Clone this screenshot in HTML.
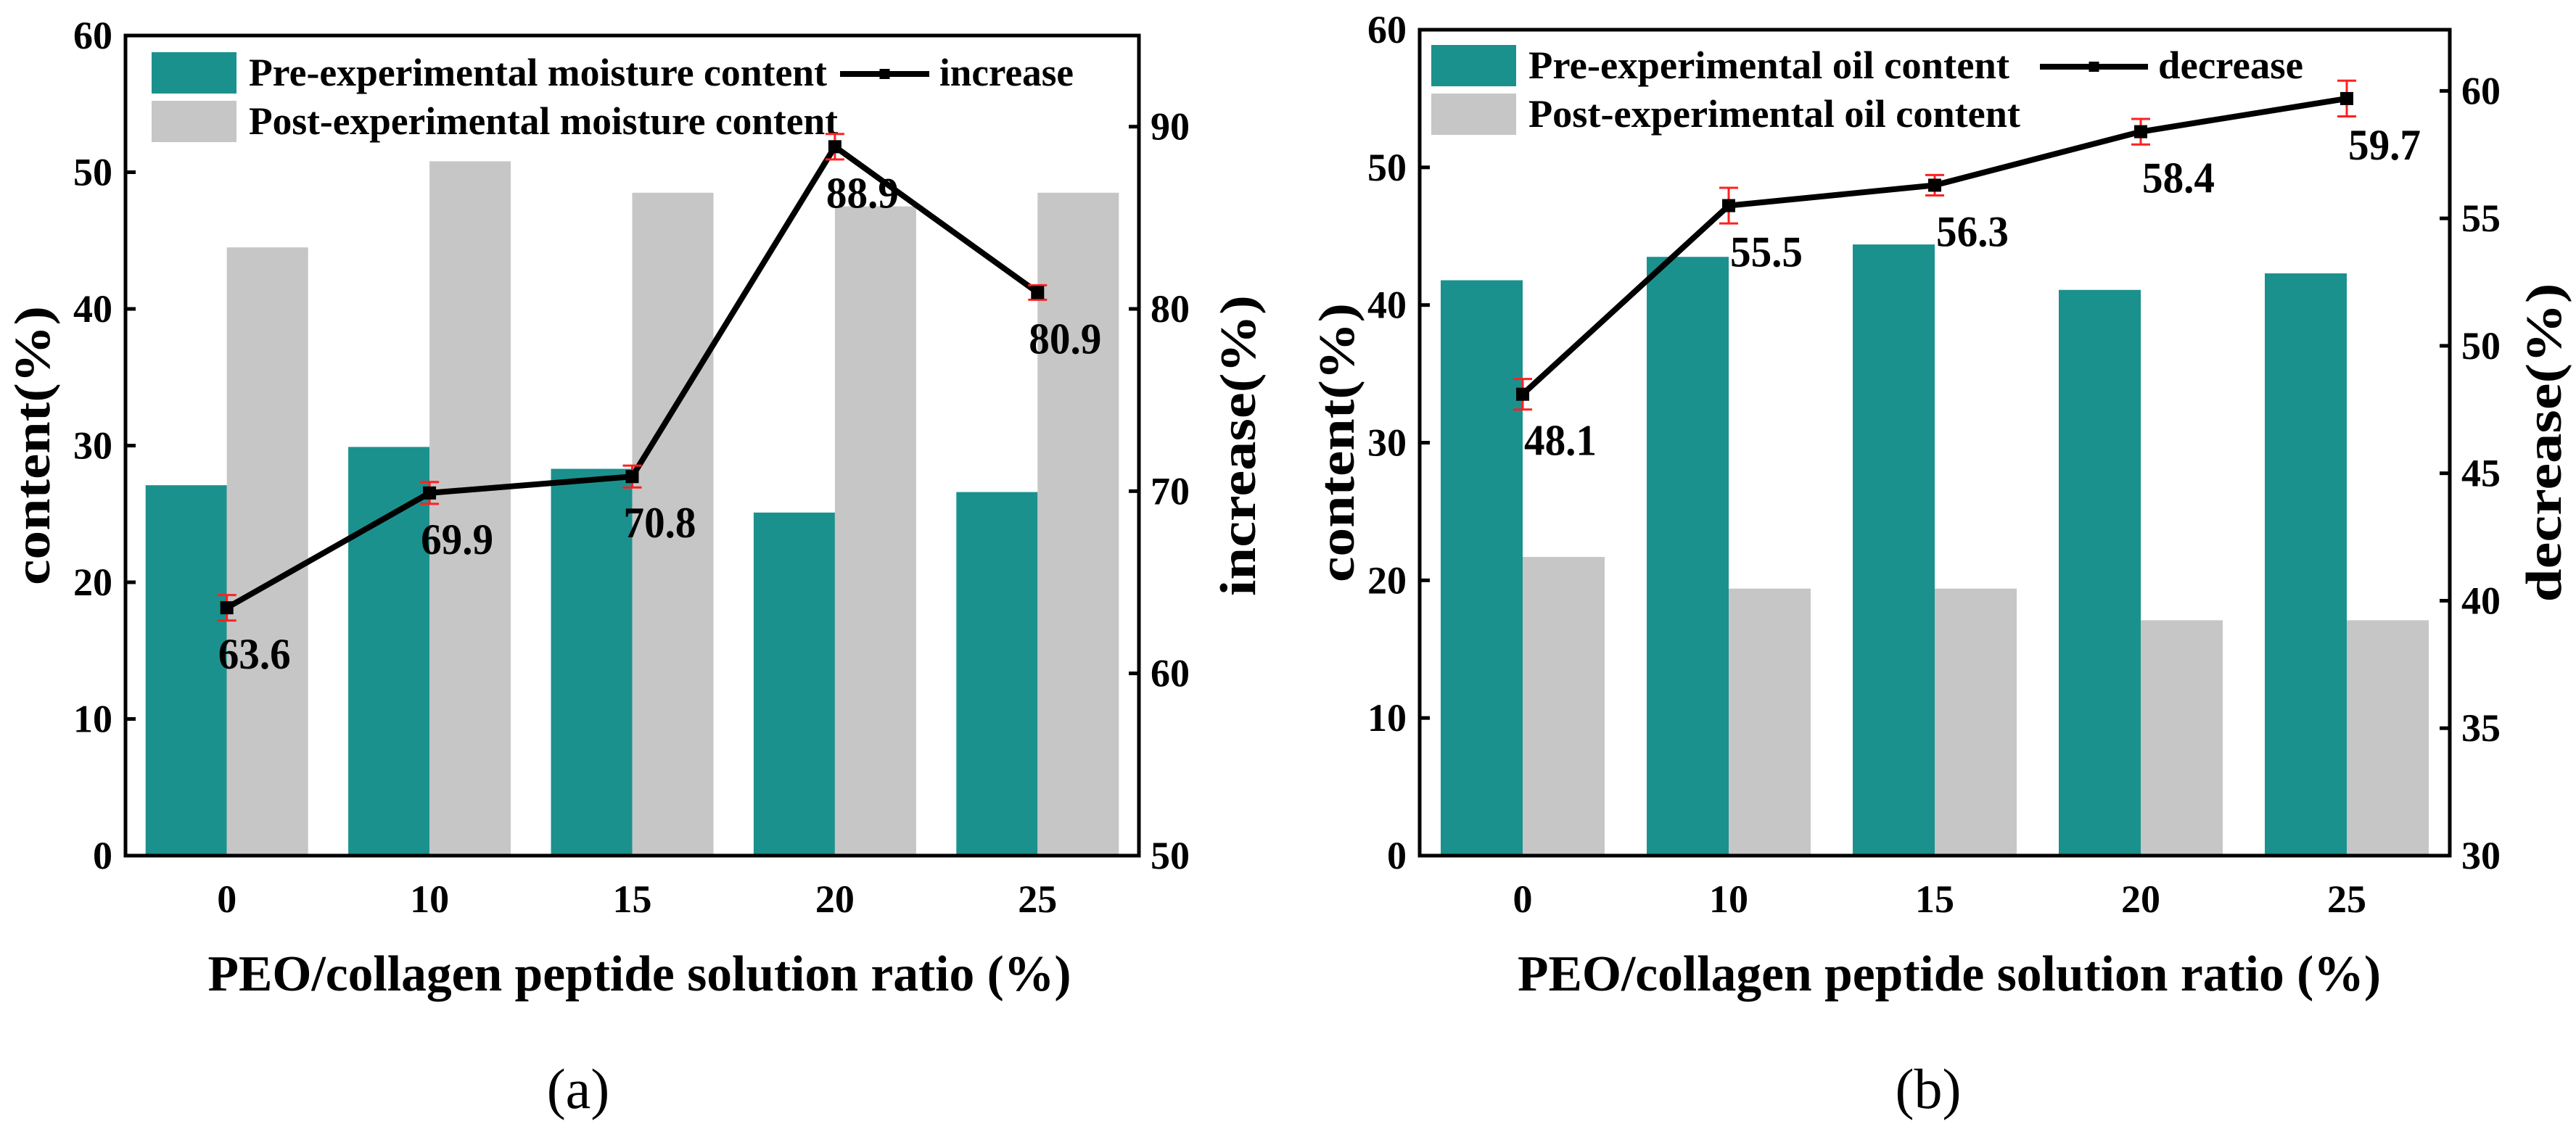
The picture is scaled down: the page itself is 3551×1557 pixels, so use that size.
<!DOCTYPE html>
<html><head><meta charset="utf-8">
<style>
html,body{margin:0;padding:0;background:#fff;}
svg, svg text{font-family:"Liberation Serif","Times New Roman","Nimbus Roman",Times,serif;}
.b{font-weight:bold;}
</style></head>
<body>
<svg id="fig" width="3551" height="1552" viewBox="0 0 3551 1552" xmlns="http://www.w3.org/2000/svg" font-family="Liberation Serif, Times New Roman, serif"></svg>
<script>
// ---------- data ----------
const categories = ["0","10","15","20","25"];
const preMoisture = [27.1, 29.9, 28.3, 25.1, 26.6];
const postMoisture = [44.5, 50.8, 48.5, 47.5, 48.5];
const increaseVals = [63.6, 69.9, 70.8, 88.9, 80.9];
const increaseErr = [0.7, 0.6, 0.6, 0.7, 0.4];
const preOil = [41.8, 43.5, 44.4, 41.1, 42.3];
const postOil = [21.7, 19.4, 19.4, 17.1, 17.1];
const decreaseVals = [48.1, 55.5, 56.3, 58.4, 59.7];
const decreaseErr = [0.6, 0.7, 0.4, 0.5, 0.7];
const leftTicks = [0,10,20,30,40,50,60];
const rightTicksA = [50,60,70,80,90];
const rightTicksB = [30,35,40,45,50,55,60];

const NS = "http://www.w3.org/2000/svg";
const svg = document.getElementById("fig");
const FF = "'Liberation Serif', 'Times New Roman', serif";
function mk(tag, attrs, parent, text){
  const e = document.createElementNS(NS, tag);
  for (const k in attrs) e.setAttribute(k, attrs[k]);
  if (tag === "text") e.setAttribute("font-family", FF);
  if (text !== undefined) e.textContent = text;
  (parent || svg).appendChild(e);
  return e;
}
const TEAL = "#1b918e", GREY = "#c6c6c6";

function drawChart(cfg){
  const g = mk("g", {});
  
  
  const {L,R,T,B} = cfg;
  const n = categories.length, gw = (R-L)/n, bw = cfg.bw;
  const yL = v => B - (v - 0)/(60 - 0)*(B-T);
  const yR = v => B - (v - cfg.rmin)/(cfg.rmax - cfg.rmin)*(B-T);
  const xC = i => L + gw*(i+0.5);

  for (let i=0;i<n;i++){
    let r = mk("rect",{x:xC(i)-bw, y:yL(cfg.pre[i]), width:bw, height:B-yL(cfg.pre[i]), fill:TEAL}, g);
    
    
    r = mk("rect",{x:xC(i), y:yL(cfg.post[i]), width:bw, height:B-yL(cfg.post[i]), fill:GREY}, g);
    
    
  }
  const lg = mk("g",{}, g);
  
  
  mk("rect",{x:cfg.lx, y:cfg.ly, width:117, height:57, fill:TEAL}, lg);
  mk("rect",{x:cfg.lx, y:cfg.ly+67, width:117, height:57, fill:GREY}, lg);
  let t = mk("text",{x:cfg.lx+134, y:cfg.ly+46, "font-size":54, class:"b", textLength:cfg.t1len, lengthAdjust:"spacingAndGlyphs"}, lg, cfg.t1);
  
  
  t = mk("text",{x:cfg.lx+134, y:cfg.ly+113, "font-size":54, class:"b", textLength:cfg.t2len, lengthAdjust:"spacingAndGlyphs"}, lg, cfg.t2);
  
  
  mk("line",{x1:cfg.llx1, x2:cfg.llx2, y1:cfg.ly+30, y2:cfg.ly+30, stroke:"#000","stroke-width":8}, lg);
  mk("rect",{x:(cfg.llx1+cfg.llx2)/2-7, y:cfg.ly+23, width:14, height:14, fill:"#000"}, lg);
  t = mk("text",{x:cfg.llx2+14, y:cfg.ly+46, "font-size":54, class:"b", textLength:cfg.t3len, lengthAdjust:"spacingAndGlyphs"}, lg, cfg.t3);
  
  

  let pts = cfg.line.map((v,i)=> xC(i)+","+yR(v)).join(" ");
  const pl = mk("polyline",{points:pts, fill:"none", stroke:"#000", "stroke-width":8, "stroke-linejoin":"miter"}, g);
  
  
  for (let i=0;i<n;i++){
    const x = xC(i), y = yR(cfg.line[i]), e = cfg.err[i];
    const y1 = yR(cfg.line[i]+e), y2 = yR(cfg.line[i]-e);
    mk("line",{x1:x,x2:x,y1:y1,y2:y2,stroke:"#ff2020","stroke-width":3}, g);
    mk("line",{x1:x-13,x2:x+13,y1:y1,y2:y1,stroke:"#ff2020","stroke-width":3}, g);
    mk("line",{x1:x-13,x2:x+13,y1:y2,y2:y2,stroke:"#ff2020","stroke-width":3}, g);
    const m = mk("rect",{x:x-9,y:y-9,width:18,height:18,fill:"#000"}, g);
    
    
    const lab = mk("text",{x:x+cfg.dlx, y:y+84, "font-size":60, class:"b", "text-anchor":"middle", textLength:100, lengthAdjust:"spacingAndGlyphs"}, g, cfg.line[i].toFixed(1));
    
    
  }

  const fr = mk("rect",{x:L, y:T, width:R-L, height:B-T, fill:"none", stroke:"#000", "stroke-width":5}, g);
  
  
  leftTicks.forEach(v=>{
    const y = yL(v);
    mk("line",{x1:L, x2:L+14, y1:y, y2:y, stroke:"#000","stroke-width":5}, g);
    const tl = mk("text",{x:L-18, y:y+18, "font-size":54, class:"b", "text-anchor":"end"}, g, String(v));
    
    
  });
  cfg.rticks.forEach(v=>{
    const y = yR(v);
    mk("line",{x1:R, x2:R-14, y1:y, y2:y, stroke:"#000","stroke-width":5}, g);
    const tl = mk("text",{x:R+16, y:y+18, "font-size":54, class:"b"}, g, String(v));
    
    
  });
  categories.forEach((c,i)=>{
    const tl = mk("text",{x:xC(i), y:B+78, "font-size":54, class:"b", "text-anchor":"middle"}, g, c);
    
    
  });
  let tt = mk("text",{x:(L+R)/2+cfg.xtOff, y:B+186, "font-size":70, class:"b", "text-anchor":"middle", textLength:1190, lengthAdjust:"spacingAndGlyphs"}, g, "PEO/collagen peptide solution ratio (%)");
  
  
  tt = mk("text",{x:0, y:0, "font-size":70, class:"b", "text-anchor":"middle", textLength:385, lengthAdjust:"spacingAndGlyphs", transform:`translate(${cfg.ylx},${(T+B)/2}) rotate(-90)`}, g, "content(%)");
  
  
  tt = mk("text",{x:0, y:0, "font-size":70, class:"b", "text-anchor":"middle", textLength:cfg.rtlen, lengthAdjust:"spacingAndGlyphs", transform:`translate(${cfg.yrx},${(T+B)/2}) rotate(-90)`}, g, cfg.rtitle);
  
  
  tt = mk("text",{x:cfg.capx, y:1528, "font-size":78, "text-anchor":"middle"}, g, cfg.cap);
  
  
}

drawChart({name:"chart-a-moisture", L:173, R:1570, T:49, B:1180, bw:112,
  rmin:50, rmax:95, rticks:rightTicksA, pre:preMoisture, post:postMoisture,
  line:increaseVals, err:increaseErr, dlx:38,
  lx:209, ly:72, t1:"Pre-experimental moisture content", t1len:797,
  t2:"Post-experimental moisture content", t2len:812, llx1:1158, llx2:1281, t3:"increase", t3len:185,
  ylx:68, yrx:1730, rtitle:"increase(%)", rtlen:415, xtOff:10, capx:797, cap:"(a)"});

drawChart({name:"chart-b-oil", L:1957, R:3377, T:41, B:1180, bw:113,
  rmin:30, rmax:62.4, rticks:rightTicksB, pre:preOil, post:postOil,
  line:decreaseVals, err:decreaseErr, dlx:52,
  lx:1973, ly:62, t1:"Pre-experimental oil content", t1len:663,
  t2:"Post-experimental oil content", t2len:678, llx1:2812, llx2:2961, t3:"decrease", t3len:200,
  ylx:1866, yrx:3530, rtitle:"decrease(%)", rtlen:440, xtOff:20, capx:2658, cap:"(b)"});
</script>
</body></html>
